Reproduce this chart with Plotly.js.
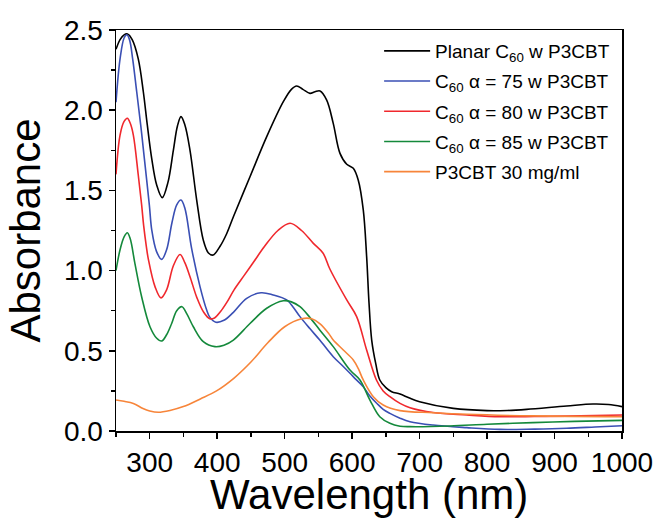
<!DOCTYPE html>
<html>
<head>
<meta charset="utf-8">
<script src="https://cdn.plot.ly/plotly-3.0.1.min.js"></script>
<style>html,body{margin:0;padding:0;background:#fff;}#chart{width:658px;height:518px;}</style>
</head>
<body>
<div id="chart"></div>
<script>
// Series names
const seriesNames = [
  "Planar C<sub>60</sub> w P3CBT",
  "C<sub>60</sub> \u03b1 = 75 w P3CBT",
  "C<sub>60</sub> \u03b1 = 80 w P3CBT",
  "C<sub>60</sub> \u03b1 = 85 w P3CBT",
  "P3CBT 30 mg/ml"
];
const xTitle = "Wavelength (nm)";
const yTitle = "Absorbance";

// Planar C60 w P3CBT
const wlPlanar = [250,256,262,267,274,283,290.5,296.4,302.9,310.3,318.6,327,335,341,346.3,352,359.7,369.6,379.4,387,394,404,414,424,448.6,473.4,498,510,517.8,527,537.5,545,552.4,562.3,572,582,592,601.7,609,616.5,621.5,625,629,635,641,650,658.6,671,685,700,750,800,830,858.7,918,957,980,1000];
const absPlanar = [2.38,2.44,2.47,2.475,2.44,2.32,2.115,1.908,1.70,1.534,1.455,1.55,1.75,1.90,1.96,1.91,1.75,1.44,1.19,1.11,1.097,1.15,1.23,1.336,1.585,1.835,2.053,2.13,2.151,2.13,2.105,2.115,2.12,2.063,1.918,1.731,1.663,1.638,1.565,1.378,1.087,0.80,0.567,0.42,0.318,0.27,0.245,0.23,0.205,0.183,0.141,0.127,0.128,0.135,0.156,0.168,0.165,0.152];

// C60 alpha = 75 w P3CBT
const wlA75 = [250,256,262,266,270,274.7,280.7,286.6,292,299.4,303,310,317.7,325,333,340,346.3,352,362,374.5,384.4,389,398,410,424,443.7,465,483,503,513,522.7,537,552,572,585,596.8,606,616.5,626,636.4,646,656,671,685.8,720,770,819,870,918,960,1000];
const absA75 = [2.05,2.32,2.45,2.47,2.44,2.32,2.115,1.908,1.70,1.41,1.253,1.12,1.07,1.13,1.30,1.41,1.44,1.39,1.14,0.90,0.754,0.71,0.678,0.69,0.74,0.827,0.862,0.848,0.817,0.77,0.713,0.64,0.567,0.463,0.41,0.36,0.32,0.276,0.22,0.173,0.135,0.11,0.08,0.058,0.037,0.021,0.01,0.012,0.017,0.025,0.033];

// C60 alpha = 80 w P3CBT
const wlA80 = [250,256,262,266.8,271,275.7,283,288,291,295,298,307.8,316.7,325,335,344.9,352,359.7,370,380,389,396,405,414,425,440,455,470,490,508,525,542.5,557,567,592,606.7,621.5,636,646,656,671,685.8,720,770,819,870,918,1000];
const absA80 = [1.60,1.845,1.93,1.95,1.92,1.845,1.596,1.41,1.28,1.15,1.07,0.90,0.83,0.88,1.03,1.10,1.05,0.962,0.83,0.74,0.70,0.705,0.745,0.80,0.88,0.97,1.06,1.15,1.25,1.295,1.25,1.17,1.108,1.01,0.817,0.713,0.505,0.318,0.25,0.214,0.172,0.145,0.115,0.10,0.089,0.09,0.093,0.10];

// C60 alpha = 85 w P3CBT
const wlA85 = [250,256,262,266.8,271,278,288,300.4,310,317.7,325,332.5,340,347.8,355,364.6,379.4,396.7,410,424,448.6,473.4,498,510,522.7,537,552,572,596.8,611.6,626.4,641,656,671,685.8,745,800,868,930,1000];
const absA85 = [1.00,1.13,1.21,1.236,1.20,1.045,0.837,0.65,0.58,0.561,0.60,0.67,0.75,0.775,0.73,0.65,0.557,0.526,0.535,0.567,0.67,0.765,0.812,0.805,0.775,0.71,0.63,0.526,0.38,0.318,0.193,0.089,0.048,0.03,0.027,0.031,0.042,0.052,0.06,0.066];

// P3CBT 30 mg/ml
const wlP3 = [250,262,275.7,290,300,312.7,330,349.8,375,399,425,450,475,500,525,540,552,565,572,586.9,601.7,609,616.5,631.4,646,671,720,770,868,1000];
const absP3 = [0.193,0.185,0.172,0.14,0.125,0.117,0.128,0.152,0.20,0.25,0.33,0.43,0.55,0.65,0.70,0.70,0.67,0.61,0.567,0.505,0.443,0.39,0.318,0.214,0.162,0.127,0.114,0.104,0.094,0.089];

const xs = [wlPlanar, wlA75, wlA80, wlA85, wlP3];
const ys = [absPlanar, absA75, absA80, absA85, absP3];
const colors = ["#000000", "#3a4fb4", "#f0282d", "#14893b", "#f7853a"];

const traces = xs.map((x, i) => ({
  x: x, y: ys[i], type: "scatter", mode: "lines", name: seriesNames[i],
  legendgroup: "g" + i,
  line: {color: colors[i], width: 1.6, shape: "spline", smoothing: 1.0}
}));

const fontFam = "Liberation Sans, Arial, sans-serif";
const layout = {
  width: 658, height: 518,
  margin: {l: 116, r: 36, t: 30, b: 87},
  paper_bgcolor: "#fff", plot_bgcolor: "#fff",
  font: {family: fontFam, color: "#000"},
  showlegend: true,
  legend: {x: 0.52, y: 0.995, xanchor: "left", yanchor: "top", bgcolor: "rgba(0,0,0,0)",
           font: {size: 19, family: fontFam, color: "#000"}, itemwidth: 46, tracegroupgap: 2.5},
  annotations: [{
    text: xTitle, xref: "paper", yref: "paper", x: 0.5, y: 0, xanchor: "center", yanchor: "top",
    yshift: -38, showarrow: false, font: {size: 42, family: fontFam, color: "#000"}
  }],
  xaxis: {
    range: [250, 1000], tick0: 0, dtick: 100, showgrid: false, zeroline: false,
    showline: true, linecolor: "#000", linewidth: 1.5, mirror: true,
    ticks: "outside", ticklen: 6, tickwidth: 1.5, tickcolor: "#000",
    minor: {dtick: 50, ticks: "outside", ticklen: 4, tickwidth: 1.5, tickcolor: "#000", showgrid: false},
    tickfont: {size: 28, family: fontFam}
  },
  yaxis: {
    range: [0, 2.5], tick0: 0, dtick: 0.5, tickformat: ".1f", showgrid: false, zeroline: false,
    showline: true, linecolor: "#000", linewidth: 1.5, mirror: true,
    ticks: "outside", ticklen: 6, tickwidth: 1.5, tickcolor: "#000",
    minor: {dtick: 0.25, ticks: "outside", ticklen: 4, tickwidth: 1.5, tickcolor: "#000", showgrid: false},
    tickfont: {size: 28, family: fontFam},
    title: {text: yTitle, font: {size: 42, family: fontFam}, standoff: 10}
  }
};

Plotly.newPlot("chart", traces, layout, {staticPlot: true, displayModeBar: false});
</script>
</body>
</html>
